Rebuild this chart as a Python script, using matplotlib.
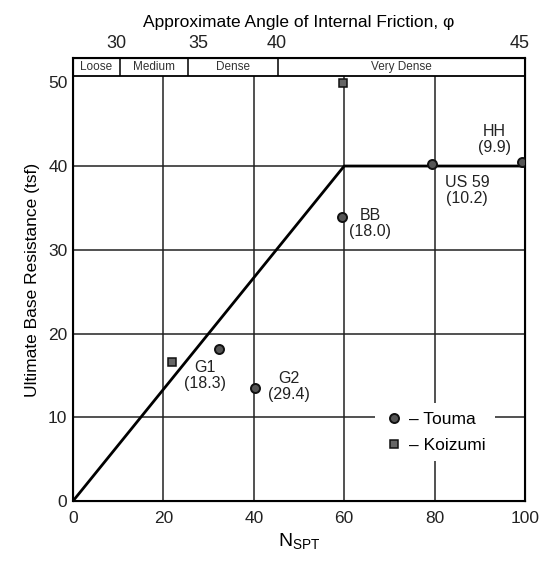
import numpy as np
import matplotlib
matplotlib.use("Agg")
import matplotlib.pyplot as plt
from matplotlib.lines import Line2D

plt.rcParams["font.family"] = ["Liberation Sans", "DejaVu Sans"]
plt.rcParams["mathtext.fontset"] = "custom"
plt.rcParams["mathtext.rm"] = "Liberation Sans"

# ---- data ----
# design line: linear up to N=60, capped at 40 tsf
line_n = [0, 60, 100]
line_q = [0, 40, 40]

# Touma load tests
touma_names = ["G1", "G2", "BB", "US 59", "HH"]
touma_n = [32.3, 40.3, 59.5, 79.4, 99.3]
touma_q = [18.1, 13.5, 33.9, 40.3, 40.5]
touma_notes = ["(18.3)", "(29.4)", "(18.0)", "(10.2)", "(9.9)"]
# label anchor (N, q) for each Touma site
label_n = [29.3, 47.8, 65.8, 87.2, 93.3]
label_q = [15.0, 13.7, 33.1, 37.1, 43.2]

# Koizumi load tests
koizumi_n = [21.9, 59.7]
koizumi_q = [16.6, 49.9]

# density classes and friction angle scale
density_labels = ["Loose", "Medium", "Dense", "Very Dense"]
density_edges = [0, 10.4, 25.4, 45.4, 100]
phi_labels = ["30", "35", "40", "45"]
phi_n = [9.7, 27.7, 45.1, 98.9]

x_grid = [20, 40, 60, 80]
y_grid = [10, 20, 30, 40]
band_lo, band_hi = 50.7, 52.9

fig = plt.figure(figsize=(5.39, 5.61), dpi=100)
ax = fig.add_axes([73 / 539, 60 / 561, 452 / 539, 443 / 561])
ax.set_xlim(0, 100)
ax.set_ylim(0, band_hi)

# grid (stops below the density band)
ax.vlines(x_grid, 0, band_lo, color="#222222", lw=1.1, zorder=1)
ax.hlines(y_grid, 0, 100, color="#222222", lw=1.1, zorder=1)

# density band
ax.hlines(band_lo, 0, 100, color="black", lw=1.3, zorder=2)
ax.vlines(density_edges[1:-1], band_lo, band_hi, color="black", lw=1.1, zorder=2)
for i, lab in enumerate(density_labels):
    xc = (density_edges[i] + density_edges[i + 1]) / 2
    ax.text(xc, (band_lo + band_hi) / 2 + 0.05, lab, ha="center", va="center",
            fontsize=8.5, color="#333333")

# design line
ax.plot(line_n, line_q, color="black", lw=2.0, zorder=3)

# measured points
ax.plot(touma_n, touma_q, "o", ms=6.5, mfc="#555555", mec="#111111", mew=1.4,
        linestyle="none", zorder=4)
ax.plot(koizumi_n, koizumi_q, "s", ms=5.5, mfc="#666666", mec="#111111", mew=1.1,
        linestyle="none", zorder=4)

for name, note, xn, yq in zip(touma_names, touma_notes, label_n, label_q):
    ax.text(xn, yq, name + "\n" + note, ha="center", va="center",
            fontsize=11.5, color="#222222", linespacing=1.1)

# axes styling
ax.set_xticks([0, 20, 40, 60, 80, 100])
ax.set_yticks([0, 10, 20, 30, 40, 50])
ax.tick_params(length=0, labelsize=12.5, pad=7, colors="#222222")
ax.tick_params(axis="y", pad=4)
for sp in ax.spines.values():
    sp.set_linewidth(1.5)
ax.set_xlabel(r"$\mathregular{N_{SPT}}$", fontsize=14, labelpad=4)
ax.set_ylabel("Ultimate Base Resistance (tsf)", fontsize=12.5, labelpad=6)

# friction angle scale on top
top = ax.twiny()
top.set_xlim(ax.get_xlim())
top.set_xticks(phi_n)
top.set_xticklabels(phi_labels)
top.tick_params(length=0, labelsize=13, pad=4, colors="#222222")
top.set_xlabel("Approximate Angle of Internal Friction, φ", fontsize=12.5, labelpad=6)

# legend
handles = [
    Line2D([], [], marker="o", ms=6.5, mfc="#555555", mec="#111111", mew=1.4, ls="none"),
    Line2D([], [], marker="s", ms=5.5, mfc="#666666", mec="#111111", mew=1.1, ls="none"),
]
leg = ax.legend(handles, ["– Touma", "– Koizumi"], loc="center",
                bbox_to_anchor=(0.80, 0.155), fontsize=12.5, frameon=True,
                facecolor="white", edgecolor="none", framealpha=1,
                handletextpad=0.3, borderpad=0.5, labelspacing=0.6,
                handlelength=1.2)
leg.set_zorder(5)

fig.savefig("out.png", dpi=100)
